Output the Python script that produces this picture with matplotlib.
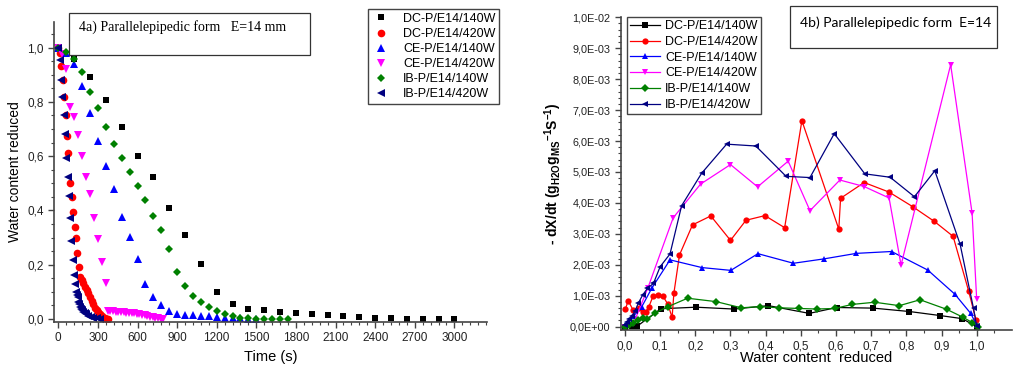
import numpy as np
import matplotlib
matplotlib.use("Agg")
import matplotlib.pyplot as plt
from matplotlib.patches import Rectangle
from matplotlib.ticker import MultipleLocator, FuncFormatter

plt.rcParams['font.family'] = ['Liberation Sans', 'DejaVu Sans']

# ---- 4a) drying curves: water content reduced vs time (s)
dc140_t = list(range(0, 3001, 120))
dc140_x = [1.0, 0.96, 0.893, 0.808, 0.708, 0.601, 0.523, 0.408, 0.308, 0.201, 0.101, 0.055, 0.037,
           0.033, 0.025, 0.021, 0.020, 0.015, 0.010, 0.006, 0.005, 0.002, 0.0, 0.0, 0.0, 0.0]

dc420_t = [0, 10, 20, 35, 45, 55, 65, 77, 92, 105, 115, 125, 135, 145, 155, 165, 177, 189, 202, 215,
           227, 240, 252, 265, 278, 290, 303, 316, 328, 341, 353, 366, 378]
dc420_x = [1.0, 0.98, 0.933, 0.88, 0.82, 0.752, 0.676, 0.611, 0.502, 0.451, 0.396, 0.340, 0.297, 0.242,
           0.193, 0.156, 0.144, 0.131, 0.119, 0.107, 0.095, 0.080, 0.066, 0.054, 0.042, 0.033, 0.025,
           0.017, 0.010, 0.005, 0.002, 0.0, 0.0]

ce140_t = list(range(0, 1501, 60))
ce140_x = [1.0, 0.98, 0.94, 0.86, 0.758, 0.656, 0.565, 0.479, 0.377, 0.301, 0.220, 0.129, 0.080,
           0.052, 0.030, 0.020, 0.016, 0.014, 0.012, 0.010, 0.007, 0.005, 0.003, 0.002, 0.001, 0.0]

ce420_t = [0, 30, 60, 90, 120, 150, 180, 210, 240, 270, 300, 330, 360,
           375, 395, 415, 435, 455, 475, 495, 515, 535, 555, 575, 595, 615, 635, 655, 675, 695,
           715, 735, 755, 775, 795]
ce420_x = [1.0, 0.975, 0.92, 0.78, 0.746, 0.678, 0.602, 0.522, 0.461, 0.371, 0.296, 0.209, 0.131,
           0.031, 0.030, 0.029, 0.027, 0.027, 0.026, 0.024, 0.023, 0.023, 0.022, 0.021, 0.019, 0.018,
           0.016, 0.014, 0.012, 0.009, 0.007, 0.005, 0.003, 0.001, 0.0]

ib140_t = list(range(0, 1741, 60))
ib140_x = [1.0, 0.985, 0.958, 0.912, 0.837, 0.776, 0.708, 0.645, 0.592, 0.542, 0.491, 0.437, 0.381,
           0.327, 0.257, 0.174, 0.123, 0.086, 0.063, 0.043, 0.028, 0.017, 0.011, 0.005, 0.002, 0.001,
           0.0, 0.0, 0.0, 0.0]

ib420_t = [0, 13, 20, 30, 43, 51, 58, 71, 81, 88, 99, 111, 119, 127, 134, 140, 146, 152, 158, 164,
           172, 180, 189, 200, 212, 227, 245, 265, 290, 316]
ib420_x = [1.0, 0.955, 0.881, 0.82, 0.752, 0.682, 0.592, 0.525, 0.455, 0.371, 0.289, 0.217, 0.162,
           0.129, 0.101, 0.090, 0.082, 0.064, 0.055, 0.045, 0.038, 0.032, 0.027, 0.021, 0.017, 0.012,
           0.008, 0.005, 0.002, 0.0]

# ---- 4b) drying rate (x1e-3) vs water content reduced
dc140_w = [0.0, 0.02, 0.035, 0.102, 0.202, 0.310, 0.408, 0.524, 0.602, 0.706, 0.809, 0.896, 0.959, 1.0]
dc140_r = [0.0, 0.02, 0.02, 0.58, 0.63, 0.57, 0.68, 0.43, 0.62, 0.60, 0.49, 0.36, 0.26, 0.0]

dc420_w = [0.001, 0.009, 0.023, 0.040, 0.051, 0.060, 0.068, 0.080, 0.094, 0.108, 0.122, 0.134, 0.139,
           0.155, 0.192, 0.244, 0.300, 0.344, 0.398, 0.454, 0.503, 0.608, 0.613, 0.680, 0.751, 0.818,
           0.880, 0.933, 0.977, 0.998]
dc420_r = [0.56, 0.84, 0.54, 0.60, 0.46, 0.49, 0.65, 0.99, 1.04, 0.99, 0.72, 0.30, 1.08, 2.32, 3.29,
           3.58, 2.79, 3.44, 3.59, 3.20, 6.66, 3.15, 4.15, 4.66, 4.35, 3.88, 3.40, 2.92, 1.16, 0.22]

ce140_w = [0.0, 0.01, 0.025, 0.048, 0.076, 0.128, 0.219, 0.301, 0.378, 0.479, 0.565, 0.658, 0.758,
           0.861, 0.938, 0.983, 1.0]
ce140_r = [0.05, 0.15, 0.35, 0.65, 1.24, 2.16, 1.91, 1.82, 2.36, 2.05, 2.19, 2.37, 2.43, 1.83, 1.05,
           0.43, 0.05]

ce420_w = [0.0, 0.012, 0.025, 0.065, 0.137, 0.215, 0.300, 0.377, 0.464, 0.526, 0.611, 0.680, 0.751,
           0.785, 0.926, 0.987, 1.0]
ce420_r = [0.0, 0.05, 0.12, 1.25, 3.52, 4.61, 5.24, 4.52, 5.35, 3.75, 4.74, 4.53, 4.16, 1.99, 8.47,
           3.67, 0.90]

ib140_w = [0.0, 0.012, 0.024, 0.038, 0.050, 0.064, 0.086, 0.123, 0.178, 0.259, 0.331, 0.384, 0.439,
           0.494, 0.545, 0.597, 0.646, 0.710, 0.780, 0.839, 0.915, 0.962, 0.988, 1.004]
ib140_r = [0.0, 0.05, 0.11, 0.22, 0.28, 0.24, 0.45, 0.65, 0.92, 0.81, 0.61, 0.65, 0.61, 0.59, 0.57,
           0.59, 0.72, 0.79, 0.68, 0.87, 0.56, 0.30, 0.13, 0.0]

ib420_w = [0.0, 0.005, 0.012, 0.020, 0.028, 0.038, 0.050, 0.064, 0.081, 0.100, 0.128, 0.161, 0.218,
           0.289, 0.372, 0.458, 0.526, 0.595, 0.682, 0.754, 0.823, 0.881, 0.953, 0.991, 1.0]
ib420_r = [0.05, 0.15, 0.25, 0.35, 0.50, 0.76, 1.02, 1.24, 1.40, 1.94, 2.35, 3.91, 4.96, 5.90, 5.84,
           4.86, 4.82, 6.24, 4.94, 4.83, 4.20, 5.04, 2.66, 0.59, 0.02]

labels = ['DC-P/E14/140W', 'DC-P/E14/420W', 'CE-P/E14/140W', 'CE-P/E14/420W', 'IB-P/E14/140W', 'IB-P/E14/420W']
colors = ['#000000', '#ff0000', '#0000ff', '#ff00ff', '#008000', '#000080']
markers = ['s', 'o', '^', 'v', 'D', '<']
msizes = [5, 5.5, 6, 6, 4.5, 6]

left_t = [dc140_t, dc420_t, ce140_t, ce420_t, ib140_t, ib420_t]
left_x = [dc140_x, dc420_x, ce140_x, ce420_x, ib140_x, ib420_x]
right_w = [dc140_w, dc420_w, ce140_w, ce420_w, ib140_w, ib420_w]
right_r = [dc140_r, dc420_r, ce140_r, ce420_r, ib140_r, ib420_r]

fig = plt.figure(figsize=(10.19, 3.65), dpi=100)


def style_axes(ax):
    for s in ['top', 'right']:
        ax.spines[s].set_visible(False)
    for s in ['left', 'bottom']:
        ax.spines[s].set_color('#444444')
        ax.spines[s].set_linewidth(1.2)
    ax.tick_params(which='major', direction='out', length=4, width=1, colors='#444444',
                   labelcolor='#222222', labelsize=8.5)
    ax.tick_params(which='minor', direction='out', length=2.5, width=0.8, colors='#444444')


# left panel
ax1 = fig.add_axes([0.053, 0.118, 0.425, 0.822])
for t, x, c, m, ms, lab in zip(left_t, left_x, colors, markers, msizes, labels):
    ax1.plot(t, x, linestyle='none', marker=m, color=c, markersize=ms, markeredgewidth=0, label=lab)
ax1.set_xlim(-32.6, 3248)
ax1.set_ylim(-0.011, 1.095)
ax1.xaxis.set_major_locator(MultipleLocator(300))
ax1.xaxis.set_minor_locator(MultipleLocator(60))
ax1.yaxis.set_major_locator(MultipleLocator(0.2))
ax1.yaxis.set_minor_locator(MultipleLocator(0.05))
ax1.yaxis.set_major_formatter(FuncFormatter(lambda v, p: f"{v:.1f}".replace('.', ',')))
ax1.xaxis.set_major_formatter(FuncFormatter(lambda v, p: f"{v:.0f}"))
style_axes(ax1)
ax1.set_xlabel('Time (s)', fontsize=10.5)
ax1.set_ylabel('Water content reduced', fontsize=10)
ax1.xaxis.set_label_coords(0.5, -0.093)
ax1.yaxis.set_label_coords(-0.074, 0.5)

fig.patches.append(Rectangle((69 / 1019, 1 - 55 / 365), 241 / 1019, 42 / 365, transform=fig.transFigure,
                             fill=False, edgecolor='#333333', linewidth=0.9))
fig.text(79 / 1019, 1 - 27 / 365, '4a) Parallelepipedic form   E=14 mm', family='Liberation Serif',
         fontsize=10, va='center', ha='left')

h1, l1 = ax1.get_legend_handles_labels()
fig.legend(h1, l1, loc='upper left', bbox_to_anchor=(368 / 1019, 1 - 9 / 365), fontsize=9,
           frameon=True, fancybox=False, edgecolor='#444444', framealpha=1, borderaxespad=0,
           handlelength=1.5, handletextpad=1.0, labelspacing=0.25, borderpad=0.3)

# right panel
ax2 = fig.add_axes([0.6094, 0.0959, 0.3834, 0.8567])
for w, r, c, m, lab in zip(right_w, right_r, colors, markers, labels):
    ax2.plot(w, np.array(r) * 1e-3, linestyle='-', linewidth=0.9, marker=m, color=c, markersize=4.5,
             markeredgewidth=0, label=lab)
ax2.set_xlim(-0.0114, 1.0995)
ax2.set_ylim(-1.07e-4, 1.0e-2)
ax2.xaxis.set_major_locator(MultipleLocator(0.1))
ax2.xaxis.set_minor_locator(MultipleLocator(0.05))
ax2.yaxis.set_major_locator(MultipleLocator(1e-3))
ax2.yaxis.set_minor_locator(MultipleLocator(2e-4))


def sci_fmt(v, p):
    if abs(v) < 1e-12:
        return '0,0E+00'
    e = int(np.floor(np.log10(abs(v)) + 1e-9))
    return f"{v / 10 ** e:.1f}".replace('.', ',') + f"E{e:+03d}"


ax2.yaxis.set_major_formatter(FuncFormatter(sci_fmt))
ax2.xaxis.set_major_formatter(FuncFormatter(lambda v, p: f"{v:.1f}".replace('.', ',')))
style_axes(ax2)
ax2.tick_params(axis='y', which='major', labelsize=7.8)
ax2.set_xlabel('Water content  reduced', fontsize=10.5)
ax2.set_ylabel(r'- dX/dt (g$_{\mathregular{H2O}}$g$_{\mathregular{MS}}$$^{\mathregular{-1}}$S$^{\mathregular{-1}}$)',
               fontsize=10, fontweight='bold')
ax2.xaxis.set_label_coords(0.5, -0.067)
ax2.yaxis.set_label_coords(-0.145, 0.5)

fig.patches.append(Rectangle((790 / 1019, 1 - 48 / 365), 207 / 1019, 42 / 365, transform=fig.transFigure,
                             fill=False, edgecolor='#333333', linewidth=0.9))
fig.text(800 / 1019, 1 - 23 / 365, '4b) Parallelepipedic form  E=14', family='Lato',
         fontsize=10, va='center', ha='left')

h2, l2 = ax2.get_legend_handles_labels()
ax2.legend(h2, l2, loc='upper left', bbox_to_anchor=(627 / 1019, 1 - 17 / 365),
           bbox_transform=fig.transFigure, fontsize=9, frameon=True, fancybox=False,
           edgecolor='#444444', framealpha=1, borderaxespad=0, handlelength=2.4,
           handletextpad=0.4, labelspacing=0.3, borderpad=0.25)

fig.savefig('out.png', dpi=100)
